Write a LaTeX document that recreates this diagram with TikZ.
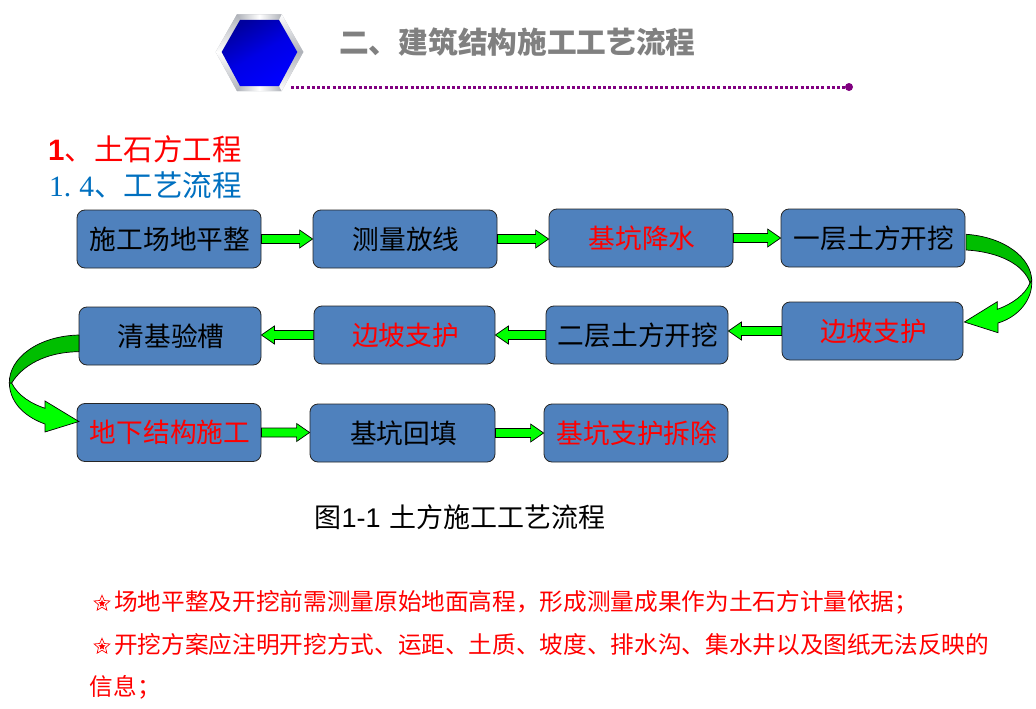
\documentclass[tikz,border=0pt]{standalone}
\usepackage{fontspec}
\setmainfont{Liberation Sans}
\newfontfamily\cjk{Noto Sans CJK SC}
\newfontfamily\serifnum{Liberation Serif}
\newfontfamily\boldnum{Liberation Sans}
\usetikzlibrary{calc,shapes.geometric}
\definecolor{boxblue}{RGB}{79,129,189}
\definecolor{titlegray}{RGB}{128,128,128}
\definecolor{headblue}{RGB}{0,112,192}
\definecolor{dotpurple}{RGB}{128,0,128}
\definecolor{arrowgreen}{RGB}{0,255,0}
\definecolor{arrowdark}{RGB}{0,190,0}
\definecolor{rimgray}{RGB}{175,178,185}
\tikzset{
  flowbox/.style={draw=black!85,line width=0.8pt,fill=boxblue,rounded corners=8pt,
    minimum width=#1,minimum height=58pt,inner sep=0pt,font=\cjk\fontsize{26.7}{26.7}\selectfont,text=black,
    execute at begin node=\kern2pt},
  flowbox/.default=184pt,
  hot/.style={text=red},
  lefttext/.style={anchor=west,inner sep=0pt},
  notetext/.style={lefttext,text=red,font=\cjk\fontsize{23.65}{23.65}\selectfont},
  blockedge/.style={draw=black,line width=0.7pt,fill=arrowgreen,line join=miter},
  darkedge/.style={draw=black,line width=0.7pt,fill=arrowdark,line join=round},
  staroutline/.style={star,star points=5,star point ratio=2.2,minimum size=16.5pt,inner sep=0pt,draw=red,line width=0.7pt},
  starcore/.style={star,star points=5,star point ratio=2.2,minimum size=7.5pt,inner sep=0pt,fill=red}
}
% straight block arrow between two nodes' anchors: {from}{to}
\newcommand{\blockarrow}[2]{%
  \path[blockedge] let \p1=(#1),\p2=(#2),\n1={ifthenelse(\x2>\x1,1,-1)} in
    (\x1,\y1+4.5pt) -- ({\x2-\n1*13pt},\y1+4.5pt) -- ({\x2-\n1*13pt},\y1+9pt) -- (\x2,\y1)
    -- ({\x2-\n1*13pt},\y1-9pt) -- ({\x2-\n1*13pt},\y1-4.5pt) -- (\x1,\y1-4.5pt) -- cycle;}
\begin{document}
\begin{tikzpicture}[x=1pt,y=-1pt]
\useasboundingbox (0,0) rectangle (1036,709);
\fill[white] (0,0) rectangle (1036,709);

% header emblem
\coordinate (ho1) at (215.7,52);\coordinate (ho2) at (237,14.3);\coordinate (ho3) at (281.7,14.3);
\coordinate (ho4) at (303.3,52);\coordinate (ho5) at (281.7,91);\coordinate (ho6) at (237,91);
\coordinate (hi1) at (221.7,52);\coordinate (hi2) at (240,20);\coordinate (hi3) at (279,20);
\coordinate (hi4) at (297.3,52);\coordinate (hi5) at (279,86);\coordinate (hi6) at (240,86);
\fill[rimgray] (ho1)--(ho2)--(ho3)--(ho4)--(ho5)--(ho6)--cycle;
\shade[left color=rimgray,right color=rimgray,middle color=white] (ho2)--(ho3)--(hi3)--(hi2)--cycle;
\shade[left color=rimgray,right color=rimgray,middle color=white] (ho6)--(ho5)--(hi5)--(hi6)--cycle;
\shade[top color=white,bottom color=rimgray] (ho3)--(ho4)--(hi4)--(hi3)--cycle;
\shade[top color=rimgray,bottom color=white] (ho1)--(ho2)--(hi2)--(hi1)--cycle;
\shade[top color=white,bottom color=rimgray] (ho1)--(ho6)--(hi6)--(hi1)--cycle;
\shade[top color=rimgray,bottom color=white] (ho4)--(ho5)--(hi5)--(hi4)--cycle;
\shade[top color=blue!62!black,bottom color=blue,middle color=blue!90!black,shading angle=30]
  (hi1)--(hi2)--(hi3)--(hi4)--(hi5)--(hi6)--cycle;

% title and rule
\node[lefttext,text=titlegray,font=\cjk\bfseries\fontsize{29.7}{29.7}\selectfont] (title) at (339,42) {二、建筑结构施工工艺流程};
\coordinate (ruleStart) at (291,87);
\node[circle,fill=dotpurple,minimum size=8pt,inner sep=0pt] (ruleEnd) at (849,87) {};
\draw[dotpurple,line width=3pt,dash pattern=on 3pt off 2.2pt] (ruleStart) -- (ruleEnd);

% headings
\node[lefttext,text=red,font=\cjk\fontsize{29.5}{29.5}\selectfont] (h1) at (48,149) {{\boldnum\bfseries 1}、土石方工程};
\node[lefttext,text=headblue,font=\cjk\fontsize{29.5}{29.5}\selectfont] (h2) at (49,185) {{\serifnum 1.\kern8pt 4}、工艺流程};

% flow boxes
\node[flowbox] (a1) at (169,239) {施工场地平整};
\node[flowbox] (a2) at (405,239) {测量放线};
\node[flowbox,hot] (a3) at (641,238) {基坑降水};
\node[flowbox] (a4) at (873,238) {一层土方开挖};
\node[flowbox=181pt,hot] (b1) at (872.5,331) {边坡支护};
\node[flowbox=182pt] (b2) at (637,335) {二层土方开挖};
\node[flowbox=181pt,hot] (b3) at (404.5,335) {边坡支护};
\node[flowbox=182pt] (b4) at (170,336) {清基验槽};
\node[flowbox,hot] (c1) at (169,432.5) {地下结构施工};
\node[flowbox=185pt] (c2) at (402.5,433) {基坑回填};
\node[flowbox,hot] (c3) at (636,433) {基坑支护拆除};

% straight connectors
\blockarrow{a1.east}{a2.west}
\blockarrow{a2.east}{a3.west}
\blockarrow{a3.east}{a4.west}
\blockarrow{b1.west}{b2.east}
\blockarrow{b2.west}{b3.east}
\blockarrow{b3.west}{b4.east}
\blockarrow{c1.east}{c2.west}
\blockarrow{c2.east}{c3.west}

% curved connector a4 -> b1
\path[blockedge] (1031.7,280) .. controls (1033,300) and (1018,317) .. (998,323)
  -- (998,332.7) -- ($(b1.east)+(1,-9)$) -- (997.3,301.7) -- (997.3,309.3)
  .. controls (1012,304) and (1025,295) .. (1030,283) -- cycle;
\path[darkedge] ($(a4.east)+(0.7,-3.7)$) .. controls (1005,237) and (1031,258) .. (1031.7,280)
  -- (1030,283) .. controls (1024,265) and (1000,252) .. ($(a4.east)+(0.7,12)$) -- cycle;

% curved connector b4 -> c1
\path[blockedge] (9.3,383) .. controls (10,405) and (28,418) .. (45,424)
  -- (45,432) -- ($(c1.west)+(2.3,-11)$) -- (45,401) -- (45,408.3)
  .. controls (32,404) and (18,396) .. (11.7,383) -- cycle;
\path[darkedge] ($(b4.west)+(0.3,-1)$) .. controls (38,336) and (9,358) .. (9.3,383)
  -- (11.7,383) .. controls (22,366) and (45,352) .. ($(b4.west)+(0.3,15.7)$) -- cycle;

% caption
\node[lefttext,font=\fontsize{27}{27}\selectfont] (cap) at (314.5,517) {{\cjk 图}1-1\kern1pt\ {\cjk 土方施工工艺流程}};

% notes
\node[staroutline] (s1) at (102,603.5) {};
\node[starcore] (s1c) at (102,603.5) {};
\node[notetext] (n1) at (114,602) {场地平整及开挖前需测量原始地面高程，形成测量成果作为土石方计量依据；};
\node[staroutline] (s2) at (102,646.5) {};
\node[starcore] (s2c) at (102,646.5) {};
\node[notetext] (n2) at (114,645) {开挖方案应注明开挖方式、运距、土质、坡度、排水沟、集水井以及图纸无法反映的};
\node[notetext] (n3) at (89.5,687) {信息；};
\end{tikzpicture}
\end{document}
